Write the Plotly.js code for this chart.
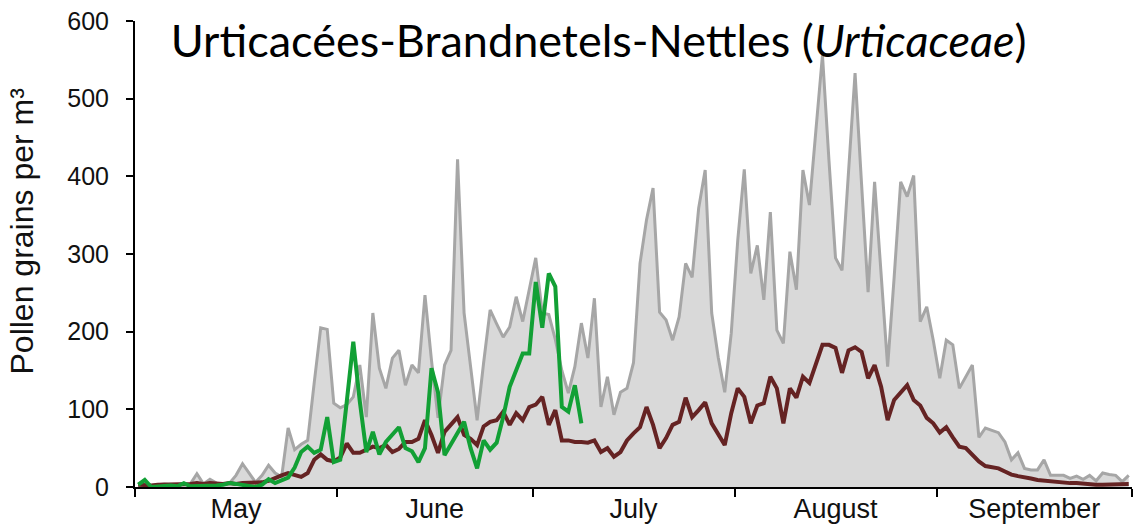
<!DOCTYPE html>
<html>
<head>
<meta charset="utf-8">
<script src="https://cdn.plot.ly/plotly-3.0.1.min.js"></script>
<style>
  html, body { margin: 0; padding: 0; background: #ffffff; }
  #chart { width: 1134px; height: 526px; }
</style>
</head>
<body>
<div id="chart"></div>
<script>
// Series start on 1 May, one value per day
const startDate = '2019-05-01';
const monthLabels = ['May', 'June', 'July', 'August', 'September'];

// Maximum (grey filled area), 1 May - 30 Sep
const maxValues = [
  3, 3, 2, 3, 4, 3, 3, 3, 4, 17,
  4, 10, 5, 4, 5, 15, 30, 18, 6, 15,
  28, 18, 13, 76, 48, 55, 60, 134, 205, 203,
  108, 102, 106, 116, 157, 90, 224, 153, 127, 166,
  176, 131, 157, 147, 247, 163, 89, 157, 176, 422,
  224, 155, 86, 160, 228, 210, 193, 206, 245, 213,
  255, 295, 224, 222, 190, 150, 121, 155, 211, 166,
  243, 103, 142, 93, 122, 127, 160, 288, 344, 385,
  225, 215, 189, 219, 288, 270, 359, 408, 224, 167,
  122, 198, 318, 409, 275, 311, 241, 354, 202, 185,
  303, 254, 408, 363, 460, 556, 420, 295, 279, 400,
  533, 390, 251, 393, 270, 155, 270, 393, 374, 401,
  213, 232, 189, 140, 189, 183, 127, 142, 157, 64,
  76, 73, 70, 58, 35, 44, 24, 22, 22, 35,
  15, 15, 15, 11, 14, 10, 15, 8, 18, 16,
  15, 7, 15
];

// Average (dark red line)
const avgValues = [
  3, 2, 2, 3, 3, 4, 3, 3, 4, 5,
  4, 5, 4, 4, 5, 4, 5, 5, 5, 6,
  8, 12, 15, 18, 15, 13, 18, 35, 42, 35,
  33, 38, 56, 44, 44, 48, 52, 50, 54, 45,
  49, 58, 58, 62, 86, 67, 44, 71, 80, 90,
  67, 62, 54, 78, 84, 86, 97, 80, 95, 86,
  103, 106, 116, 80, 99, 60, 60, 58, 58, 57,
  60, 45, 50, 39, 45, 60, 69, 77, 103, 80,
  50, 63, 80, 84, 115, 90, 99, 109, 82, 69,
  54, 95, 127, 116, 82, 105, 108, 142, 127, 82,
  127, 115, 142, 134, 160, 183, 183, 179, 147, 176,
  180, 174, 140, 157, 129, 86, 112, 122, 131, 112,
  105, 89, 82, 70, 77, 64, 52, 50, 42, 33,
  27, 25, 24, 20, 16, 14, 13, 11, 9, 8,
  7, 7, 6, 5, 5, 4, 4, 3, 3, 3,
  4, 4, 4
];

// Current year (green line), 1 May - 8 Jul
const currentValues = [
  3, 9, 0, 1, 1, 2, 1, 5, 1, 1,
  2, 2, 2, 3, 5, 4, 3, 2, 0, 3,
  10, 5, 8, 12, 25, 45, 52, 44, 48, 90,
  32, 35, 110, 187, 110, 45, 71, 42, 58, 68,
  77, 50, 46, 32, 50, 153, 122, 41, 55, 70,
  84, 50, 24, 60, 48, 57, 90, 129, 150, 172,
  172, 264, 205, 275, 258, 103, 97, 131, 82
];

const yTitle = 'Pollen grains per m³';

function dayDates(start, n) {
  const out = [];
  const d0 = new Date(start + 'T12:00:00Z');
  for (let i = 0; i < n; i++) {
    const d = new Date(d0.getTime() + i * 86400000);
    out.push(d.toISOString().slice(0, 10) + ' 12:00');
  }
  return out;
}

const traces = [
  {
    x: dayDates(startDate, maxValues.length),
    y: maxValues,
    type: 'scatter',
    mode: 'lines',
    fill: 'tozeroy',
    fillcolor: '#d9d9d9',
    line: { color: '#a6a6a6', width: 3 },
    hoverinfo: 'skip'
  },
  {
    x: dayDates(startDate, avgValues.length),
    y: avgValues,
    type: 'scatter',
    mode: 'lines',
    line: { color: '#652323', width: 4 },
    hoverinfo: 'skip'
  },
  {
    x: dayDates(startDate, currentValues.length),
    y: currentValues,
    type: 'scatter',
    mode: 'lines',
    line: { color: '#12a035', width: 4 },
    hoverinfo: 'skip'
  }
];

const tickFont = { family: '"Liberation Sans", Arial, sans-serif', size: 25, color: '#111111' };

const layout = {
  width: 1134,
  height: 526,
  margin: { l: 135, r: 2, t: 21, b: 39 },
  paper_bgcolor: '#ffffff',
  plot_bgcolor: '#ffffff',
  showlegend: false,
  title: {
    text: 'Urticacées-Brandnetels-Nettles (<i>Urticaceae</i>)',
    font: { family: 'Lato, "Open Sans", sans-serif', size: 45, color: '#000000' },
    x: 0.465, xanchor: 'center',
    y: 0.922, yanchor: 'middle',
    xref: 'paper', yref: 'container'
  },
  xaxis: {
    type: 'date',
    range: ['2019-05-01', '2019-10-01'],
    tickmode: 'linear',
    tick0: '2019-05-01',
    dtick: 'M1',
    tickformat: '%B',
    ticklabelmode: 'period',
    ticks: 'outside',
    ticklen: 8,
    tickwidth: 2,
    tickcolor: '#000000',
    showline: true,
    linecolor: '#000000',
    linewidth: 2,
    showgrid: false,
    zeroline: false,
    ticklabelstandoff: -11,
    tickfont: { family: '"Liberation Sans", Arial, sans-serif', size: 27, color: '#111111' }
  },
  yaxis: {
    range: [0, 600],
    tickvals: [0, 100, 200, 300, 400, 500, 600],
    ticks: 'outside',
    ticklen: 7,
    tickwidth: 2,
    tickcolor: '#000000',
    showline: true,
    linecolor: '#000000',
    linewidth: 2,
    showgrid: false,
    zeroline: false,
    ticklabelstandoff: 12,
    tickfont: tickFont
  },
  annotations: [
    {
      text: yTitle,
      xref: 'paper', yref: 'paper',
      x: -0.113, y: 0.549,
      xanchor: 'center', yanchor: 'middle',
      textangle: -90,
      showarrow: false,
      font: { family: '"Liberation Sans", Arial, sans-serif', size: 32, color: '#111111' }
    }
  ]
};

Plotly.newPlot('chart', traces, layout, { displayModeBar: false, staticPlot: true });
</script>
</body>
</html>
